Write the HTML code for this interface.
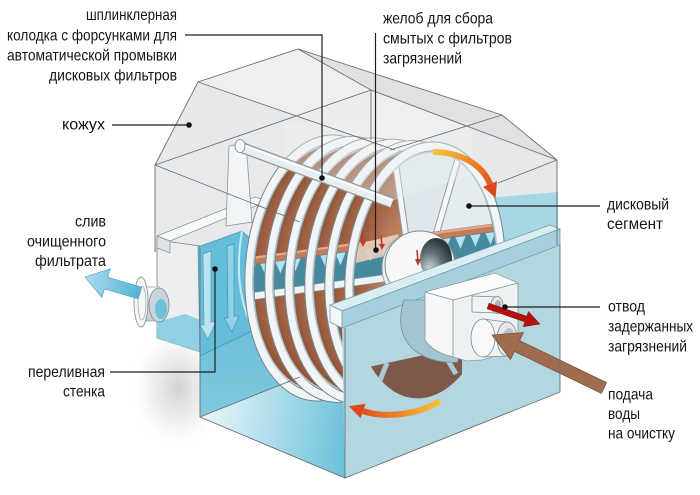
<!DOCTYPE html>
<html><head><meta charset="utf-8">
<style>
html,body{margin:0;padding:0;background:#fff;width:700px;height:495px;overflow:hidden}
svg{display:block}
text{font-family:"Liberation Sans","DejaVu Sans",sans-serif;font-size:16px;fill:#151515}
</style></head>
<body>
<svg width="700" height="495" viewBox="0 0 700 495" xmlns="http://www.w3.org/2000/svg">
<defs>
  <radialGradient id="gBrown" cx="0.5" cy="0.5" r="0.5">
    <stop offset="0" stop-color="#d3a383"/>
    <stop offset="0.6" stop-color="#b87b5a"/>
    <stop offset="0.9" stop-color="#9c5c3e"/>
    <stop offset="1" stop-color="#7e472f"/>
  </radialGradient>
  <linearGradient id="gBlueL" x1="0" y1="0" x2="0" y2="1">
    <stop offset="0" stop-color="#58b6d3"/>
    <stop offset="1" stop-color="#8fd1e3"/>
  </linearGradient>
  <linearGradient id="gFloor" gradientUnits="userSpaceOnUse" x1="205" y1="420" x2="345" y2="440">
    <stop offset="0" stop-color="#e9f6f9"/>
    <stop offset="1" stop-color="#6cc2db"/>
  </linearGradient>
  <linearGradient id="gOrT" gradientUnits="userSpaceOnUse" x1="433" y1="152" x2="495" y2="195">
    <stop offset="0" stop-color="#f7c43c"/>
    <stop offset="1" stop-color="#e0461c"/>
  </linearGradient>
  <linearGradient id="gOrB" gradientUnits="userSpaceOnUse" x1="440" y1="401" x2="355" y2="410">
    <stop offset="0" stop-color="#f7c43c"/>
    <stop offset="1" stop-color="#e0461c"/>
  </linearGradient>
  <linearGradient id="gBlueA" gradientUnits="userSpaceOnUse" x1="85" y1="280" x2="142" y2="292">
    <stop offset="0" stop-color="#a9dcef"/>
    <stop offset="1" stop-color="#52b3d6"/>
  </linearGradient>
  <radialGradient id="gHub" cx="0.3" cy="0.75" r="0.85">
    <stop offset="0" stop-color="#d0d8db"/>
    <stop offset="0.5" stop-color="#5f6d74"/>
    <stop offset="1" stop-color="#1d272c"/>
  </radialGradient>
  <radialGradient id="gShadow" cx="0.5" cy="0.5" r="0.5">
    <stop offset="0" stop-color="#9a9a9a" stop-opacity="0.45"/>
    <stop offset="0.6" stop-color="#bbbbbb" stop-opacity="0.2"/>
    <stop offset="1" stop-color="#ffffff" stop-opacity="0"/>
  </radialGradient>
  <linearGradient id="gPipe" x1="0" y1="0" x2="0" y2="1">
    <stop offset="0" stop-color="#ffffff"/>
    <stop offset="1" stop-color="#c3ccd0"/>
  </linearGradient>

  <clipPath id="c0"><circle r="1" transform="matrix(75,-30,-10,-125,325,268)"/></clipPath>
  <clipPath id="c1"><circle r="1" transform="matrix(75,-30,-10,-125,345,269.4)"/></clipPath>
  <clipPath id="c2"><circle r="1" transform="matrix(75,-30,-10,-125,365,270.8)"/></clipPath>
  <clipPath id="c3"><circle r="1" transform="matrix(75,-30,-10,-125,385,272.2)"/></clipPath>
  <clipPath id="c4"><circle r="1" transform="matrix(75,-30,-10,-125,405,273.6)"/></clipPath>
  <clipPath id="c5"><circle r="0.96" transform="matrix(75,-30,-10,-125,425,275)"/></clipPath>

  <g id="trough">
    <polygon points="240,266.4 510,229.6 510,257.6 240,294.4" fill="#468aa0"/>
    <polygon points="240,294.4 510,257.6 510,264.6 240,301.4" fill="#eef3f5" stroke="#8aa3ad" stroke-width="0.6"/>
    <polygon points="240,258.4 510,221.6 510,229.6 240,266.4" fill="#c27c5a" stroke="#8b4f36" stroke-width="0.6"/>
    <polygon points="240,258.4 510,221.6 510,224 240,260.8" fill="#e0a886"/>
    <path fill="#b3e2f1" stroke="#4f97ad" stroke-width="0.6" d="
      M245,265.7 L256,264.2 L250.5,278 Z
      M260,263.7 L271,262.2 L265.5,275.9 Z
      M275,261.6 L286,260.1 L280.5,273.9 Z
      M290,259.6 L301,258.1 L295.5,271.8 Z
      M305,257.6 L316,256.1 L310.5,269.8 Z
      M320,255.5 L331,254 L325.5,267.8 Z
      M335,253.5 L346,252 L340.5,265.7 Z
      M350,251.4 L361,249.9 L355.5,263.7 Z
      M365,249.4 L376,247.9 L370.5,261.6 Z
      M380,247.4 L391,245.9 L385.5,259.6 Z
      M395,245.3 L406,243.8 L400.5,257.6 Z
      M410,243.3 L421,241.8 L415.5,255.5 Z
      M425,241.2 L436,239.7 L430.5,253.5 Z
      M440,239.2 L451,237.7 L445.5,251.4 Z
      M455,237.2 L466,235.7 L460.5,249.4 Z
      M470,235.1 L481,233.6 L475.5,247.4 Z
      M485,233.1 L496,231.6 L490.5,245.3 Z
      M500,231 L511,229.5 L505.5,243.3 Z"/>
  </g>
</defs>

<!-- shadow -->
<ellipse cx="178" cy="388" rx="48" ry="62" fill="url(#gShadow)"/>

<!-- housing -->
<polygon points="155,252 155,165 198,82 298,49 502,115 557,160 557,245 345,322 200,248" fill="#e7e8ea"/>
<polygon points="198,82 298,49 502,115 395,150" fill="#efeff0"/>
<polygon points="298,49 371,90 557,160 502,115" fill="#e0e1e3"/>
<polygon points="155,165 371,90 371,200 155,252" fill="#e9eaeb" opacity="0.6"/>
<polygon points="488,198 558,192 558,246 492,262" fill="#a7d6e4"/>

<!-- tank left face -->
<polygon points="200,248 345,308 345,478 200,417" fill="url(#gBlueL)"/>
<polygon points="200,417 345,359 345,478" fill="url(#gFloor)"/>

<!-- left chamber -->
<polygon points="157,240 200,246 200,352 157,338" fill="#eceef0" stroke="#7d8489" stroke-width="0.8"/>
<polygon points="157,322 185,314 200,320 200,352 157,338" fill="#8fd0e4"/>

<!-- left pipe -->
<rect x="141" y="287" width="18" height="34" fill="url(#gPipe)" stroke="#8d989d" stroke-width="0.7"/>
<ellipse cx="159" cy="305" rx="10" ry="17" fill="#c8d4d9" stroke="#7d898f" stroke-width="0.8"/>
<ellipse cx="161" cy="309" rx="6" ry="10" fill="#6fc1da"/>
<ellipse cx="141" cy="302" rx="7" ry="25" fill="#f3f5f6" stroke="#7d898f" stroke-width="0.8"/>
<ellipse cx="142" cy="303" rx="4" ry="17" fill="none" stroke="#a5b0b5" stroke-width="0.8"/>

<!-- overflow wall -->
<polygon points="198,247 242,231 252,240 254,330 200,356" fill="#66bdd9" stroke="#3f93b1" stroke-width="0.7"/>
<path d="M242,231 Q232,290 254,330" fill="none" stroke="#c6ebf4" stroke-width="2"/>
<polygon points="203,254 211,251 211,322 216,322 208,339 200,325 204,325" fill="#b9e4f0" stroke="#4f9fbc" stroke-width="0.7"/>
<polygon points="227,246 234,244 234,316 239,316 232,332 224,318 228,318" fill="#8fd3e8" stroke="#3f93b1" stroke-width="0.7"/>

<!-- white ledge -->
<polygon points="157,236 255,197 268,201 170,241" fill="#f7f8f8" stroke="#868d92" stroke-width="0.7"/>
<polygon points="157,236 170,241 170,253 157,248" fill="#dde2e4" stroke="#868d92" stroke-width="0.7"/>

<!-- disks 0..4 -->
<g>
  <circle r="1" transform="matrix(75,-30,-10,-125,325,268)" fill="url(#gBrown)"/>
  <use href="#trough" clip-path="url(#c0)"/>
  <circle r="1" transform="matrix(75,-30,-10,-125,325,268)" fill="none" stroke="#74868e" stroke-width="10" vector-effect="non-scaling-stroke"/>
  <circle r="1" transform="matrix(75,-30,-10,-125,325,268)" fill="none" stroke="#f2f5f6" stroke-width="8" vector-effect="non-scaling-stroke"/>
  <circle r="0.955" transform="matrix(75,-30,-10,-125,325,268)" fill="none" stroke="#b9c7cd" stroke-width="1.5" vector-effect="non-scaling-stroke"/>
</g>
<g>
  <circle r="1" transform="matrix(75,-30,-10,-125,345,269.4)" fill="url(#gBrown)"/>
  <use href="#trough" clip-path="url(#c1)"/>
  <circle r="1" transform="matrix(75,-30,-10,-125,345,269.4)" fill="none" stroke="#74868e" stroke-width="10" vector-effect="non-scaling-stroke"/>
  <circle r="1" transform="matrix(75,-30,-10,-125,345,269.4)" fill="none" stroke="#f2f5f6" stroke-width="8" vector-effect="non-scaling-stroke"/>
  <circle r="0.955" transform="matrix(75,-30,-10,-125,345,269.4)" fill="none" stroke="#b9c7cd" stroke-width="1.5" vector-effect="non-scaling-stroke"/>
</g>
<g>
  <circle r="1" transform="matrix(75,-30,-10,-125,365,270.8)" fill="url(#gBrown)"/>
  <use href="#trough" clip-path="url(#c2)"/>
  <circle r="1" transform="matrix(75,-30,-10,-125,365,270.8)" fill="none" stroke="#74868e" stroke-width="10" vector-effect="non-scaling-stroke"/>
  <circle r="1" transform="matrix(75,-30,-10,-125,365,270.8)" fill="none" stroke="#f2f5f6" stroke-width="8" vector-effect="non-scaling-stroke"/>
  <circle r="0.955" transform="matrix(75,-30,-10,-125,365,270.8)" fill="none" stroke="#b9c7cd" stroke-width="1.5" vector-effect="non-scaling-stroke"/>
</g>
<g>
  <circle r="1" transform="matrix(75,-30,-10,-125,385,272.2)" fill="url(#gBrown)"/>
  <use href="#trough" clip-path="url(#c3)"/>
  <circle r="1" transform="matrix(75,-30,-10,-125,385,272.2)" fill="none" stroke="#74868e" stroke-width="10" vector-effect="non-scaling-stroke"/>
  <circle r="1" transform="matrix(75,-30,-10,-125,385,272.2)" fill="none" stroke="#f2f5f6" stroke-width="8" vector-effect="non-scaling-stroke"/>
  <circle r="0.955" transform="matrix(75,-30,-10,-125,385,272.2)" fill="none" stroke="#b9c7cd" stroke-width="1.5" vector-effect="non-scaling-stroke"/>
</g>
<g>
  <circle r="1" transform="matrix(75,-30,-10,-125,405,273.6)" fill="url(#gBrown)"/>
  <use href="#trough" clip-path="url(#c4)"/>
  <circle r="1" transform="matrix(75,-30,-10,-125,405,273.6)" fill="none" stroke="#74868e" stroke-width="10" vector-effect="non-scaling-stroke"/>
  <circle r="1" transform="matrix(75,-30,-10,-125,405,273.6)" fill="none" stroke="#f2f5f6" stroke-width="8" vector-effect="non-scaling-stroke"/>
  <circle r="0.955" transform="matrix(75,-30,-10,-125,405,273.6)" fill="none" stroke="#b9c7cd" stroke-width="1.5" vector-effect="non-scaling-stroke"/>
</g>

<!-- front disk segment -->
<g>
  <circle r="1" transform="matrix(75,-30,-10,-125,425,275)" fill="url(#gBrown)"/>
  <g clip-path="url(#c5)">
    <polygon points="395,140 535,140 535,252 407,252" fill="#dde7eb"/>
    <polygon points="460,140 535,140 535,252 433,252" fill="#e4ecef"/>
    <path d="M395,160 L407,245" stroke="#8d9ca3" stroke-width="7"/>
    <path d="M395,160 L407,245" stroke="#f4f6f7" stroke-width="5"/>
    <path d="M462,145 L433,245" stroke="#8d9ca3" stroke-width="7"/>
    <path d="M462,145 L433,245" stroke="#f4f6f7" stroke-width="5"/>
    <use href="#trough"/>
    <polygon points="352,246 398,234 402,252 356,263" fill="#e8cdbb" opacity="0.9"/>
    <path d="M362,232 L363,243 M381,235 L382,246" stroke="#c0392b" stroke-width="1.6"/>
    <path d="M360,241 L363,247 L366,241 Z M379,244 L382,250 L385,244 Z" fill="#c0392b"/>
  </g>
  <!-- hub -->
  <ellipse cx="412" cy="268" rx="30" ry="34" fill="#e9eef0" stroke="#8796a0" stroke-width="0.8"/>
  <ellipse cx="420" cy="265" rx="35" ry="34" fill="#f6f8f8" stroke="#7d8c94" stroke-width="1"/>
  <ellipse cx="436" cy="259" rx="16" ry="21" fill="url(#gHub)"/>
  <path d="M417,250 L418,261" stroke="#c0392b" stroke-width="1.6"/>
  <path d="M415,259 L418,266 L421,259 Z" fill="#c0392b"/>
  <circle r="1" transform="matrix(75,-30,-10,-125,425,275)" fill="none" stroke="#74868e" stroke-width="10" vector-effect="non-scaling-stroke"/>
  <circle r="1" transform="matrix(75,-30,-10,-125,425,275)" fill="none" stroke="#f2f5f6" stroke-width="8" vector-effect="non-scaling-stroke"/>
  <circle r="0.955" transform="matrix(75,-30,-10,-125,425,275)" fill="none" stroke="#b9c7cd" stroke-width="1.5" vector-effect="non-scaling-stroke"/>
</g>

<!-- pale housing overlay on ring tops -->
<polygon points="285,122 472,122 472,175 392,201 285,162" fill="#eef1f2" opacity="0.38"/>

<!-- bracket + sprinkler bar -->
<polygon points="229,146 246,143 252,222 226,226" fill="#f2f4f5" stroke="#8a969b" stroke-width="0.8"/>
<path d="M240,147 L392,203" stroke="#8a989e" stroke-width="11"/>
<path d="M240,147 L392,203" stroke="#e8edef" stroke-width="8.5"/>
<path d="M241,144.5 L392,200" stroke="#ffffff" stroke-width="2"/>
<ellipse cx="240" cy="146" rx="5" ry="6.5" fill="#f6f8f8" stroke="#7f8b90" stroke-width="0.8"/>

<!-- tank front wall -->
<polygon points="342,328 560,245 560,392 345,478" fill="#b3d7e1"/>
<g clip-path="url(#c5)">
  <polygon points="345,372 462,347 462,440 345,440" fill="#7e5949"/>
  <path d="M387,363 L370,405 M443,352 L456,374" stroke="#a9cbd7" stroke-width="5"/>
</g>
<!-- rail bar -->
<polygon points="330,305 550,225 560,229 342,311" fill="#d9edf3" stroke="#6f98a6" stroke-width="0.7"/>
<polygon points="342,311 560,229 560,245 342,328" fill="#a6d0dd" stroke="#6f98a6" stroke-width="0.7"/>
<polygon points="330,305 342,311 342,328 330,322" fill="#f3f6f7" stroke="#6f98a6" stroke-width="0.7"/>

<!-- hub bearing + pipe block -->
<path d="M404,300 Q394,332 414,350 Q432,364 458,362 L458,300 Z" fill="#a4c5d0" stroke="#6f929d" stroke-width="0.8"/>
<path d="M425,292 L453,300 L453,357 Q432,352 425,340 Z" fill="#f5f7f8" stroke="#8a979d" stroke-width="0.8"/>
<path d="M453,300 L518,283 L518,343 Q500,356 482,360 L467,361 L453,357 Z" fill="#eef1f2" stroke="#8a979d" stroke-width="0.8"/>
<polygon points="425,292 495,273 518,283 453,300" fill="#fbfcfc" stroke="#8a979d" stroke-width="0.7"/>
<!-- upper pipe -->
<polygon points="472,296 497,297 497,313 472,312" fill="#f1f4f5" stroke="#7c8a90" stroke-width="0.7"/>
<ellipse cx="497" cy="305" rx="6" ry="8.5" fill="#e2e8ea" stroke="#7c8a90" stroke-width="0.8"/>
<ellipse cx="498" cy="305" rx="3.2" ry="5" fill="#a7b3b8"/>
<!-- lower pipe -->
<polygon points="483,319 507,322 507,356 483,357" fill="#f1f4f5" stroke="#7c8a90" stroke-width="0.7"/>
<ellipse cx="483" cy="338" rx="12" ry="19" fill="#f8f9fa" stroke="#7c8a90" stroke-width="0.8"/>
<ellipse cx="507" cy="339" rx="10" ry="17" fill="#e3e8ea" stroke="#7c8a90" stroke-width="0.8"/>
<ellipse cx="509" cy="340" rx="6.5" ry="12" fill="#b8c3c8"/>

<!-- arrows -->
<path d="M433,152 C460,152 482,164 490,184" fill="none" stroke="url(#gOrT)" stroke-width="6"/>
<polygon points="497,181.2 483,186.8 495.6,197.9" fill="#dd461b"/>
<path d="M440,401 C420,414 386,419 363,411" fill="none" stroke="url(#gOrB)" stroke-width="6"/>
<polygon points="365.5,403.9 360.5,418.1 348.8,406.1" fill="#dd461b"/>
<polygon points="489,303.2 526.8,316.3 528.4,311.5 540,324 523.2,326.7 524.8,321.9 487,308.8" fill="#b3120f" stroke="#7d0a08" stroke-width="0.5"/>
<polygon points="606.6,382.6 519.6,340.6 523.5,332.5 492,335 510.5,359.5 514.4,351.4 601.4,393.4" fill="#a06c50" stroke="#7a4c36" stroke-width="0.7"/>
<polygon points="141.7,287.2 107.8,277.3 110.3,268.7 85,277 101.9,297.5 104.4,288.9 138.3,298.8" fill="url(#gBlueA)" stroke="#4a9fc0" stroke-width="0.6"/>

<!-- housing & tank lines -->
<g fill="none" stroke="#6b6f73" stroke-width="0.9">
  <path d="M155,252 L155,165 L198,82 L298,49 L502,115 L557,160 L557,245"/>
  <path d="M155,165 L371,90 L371,140"/>
  <path d="M298,49 L371,90 L557,160"/>
  <path d="M198,82 L395,150"/>
  <path d="M502,115 L390,150"/>
  <path d="M155,165 L300,222"/>
  <path d="M557,160 L498,183"/>
  <path d="M200,248 L200,417 L345,478 L560,392 L560,245"/>
  <path d="M345,478 L345,328"/>
  <path d="M200,417 L300,377"/>
</g>

<!-- leader lines -->
<g fill="none" stroke="#1e1e1e" stroke-width="1.2">
  <path d="M185,35 H322 V178"/>
  <path d="M112,125 H189"/>
  <path d="M375.5,33 V250"/>
  <path d="M469,206 H600"/>
  <path d="M505,307 H600"/>
  <path d="M110,372 H215 V269"/>
</g>
<g fill="#111">
  <circle cx="322" cy="178" r="2.8"/>
  <circle cx="189" cy="125" r="2.8"/>
  <circle cx="376" cy="250" r="2.8"/>
  <circle cx="469" cy="206" r="2.8"/>
  <circle cx="505" cy="307" r="2.8"/>
  <circle cx="215" cy="269" r="2.8"/>
</g>

<!-- labels -->
<text x="86" y="20" textLength="91" lengthAdjust="spacingAndGlyphs">шплинклерная</text>
<text x="7" y="40.5" textLength="170" lengthAdjust="spacingAndGlyphs">колодка с форсунками для</text>
<text x="7" y="60.5" textLength="170" lengthAdjust="spacingAndGlyphs">автоматической промывки</text>
<text x="49" y="80.5" textLength="128" lengthAdjust="spacingAndGlyphs">дисковых фильтров</text>
<text x="62" y="129.5" textLength="43" lengthAdjust="spacingAndGlyphs">кожух</text>
<text x="75" y="226.5" textLength="31" lengthAdjust="spacingAndGlyphs">слив</text>
<text x="27" y="246.5" textLength="79" lengthAdjust="spacingAndGlyphs">очищенного</text>
<text x="35" y="266" textLength="71" lengthAdjust="spacingAndGlyphs">фильтрата</text>
<text x="28" y="377" textLength="77" lengthAdjust="spacingAndGlyphs">переливная</text>
<text x="63" y="396.5" textLength="42" lengthAdjust="spacingAndGlyphs">стенка</text>

<text x="383" y="23.5" textLength="110" lengthAdjust="spacingAndGlyphs">желоб для сбора</text>
<text x="383" y="43.5" textLength="129" lengthAdjust="spacingAndGlyphs">смытых с фильтров</text>
<text x="383" y="63.5" textLength="79" lengthAdjust="spacingAndGlyphs">загрязнений</text>
<text x="607" y="209.5" textLength="62" lengthAdjust="spacingAndGlyphs">дисковый</text>
<text x="607" y="229" textLength="56" lengthAdjust="spacingAndGlyphs">сегмент</text>
<text x="608" y="311.5" textLength="37" lengthAdjust="spacingAndGlyphs">отвод</text>
<text x="608" y="331.5" textLength="85" lengthAdjust="spacingAndGlyphs">задержанных</text>
<text x="608" y="351.5" textLength="79" lengthAdjust="spacingAndGlyphs">загрязнений</text>
<text x="608" y="399.5" textLength="45" lengthAdjust="spacingAndGlyphs">подача</text>
<text x="608" y="419" textLength="32" lengthAdjust="spacingAndGlyphs">воды</text>
<text x="608" y="438.5" textLength="67" lengthAdjust="spacingAndGlyphs">на очистку</text>
</svg>
</body></html>
